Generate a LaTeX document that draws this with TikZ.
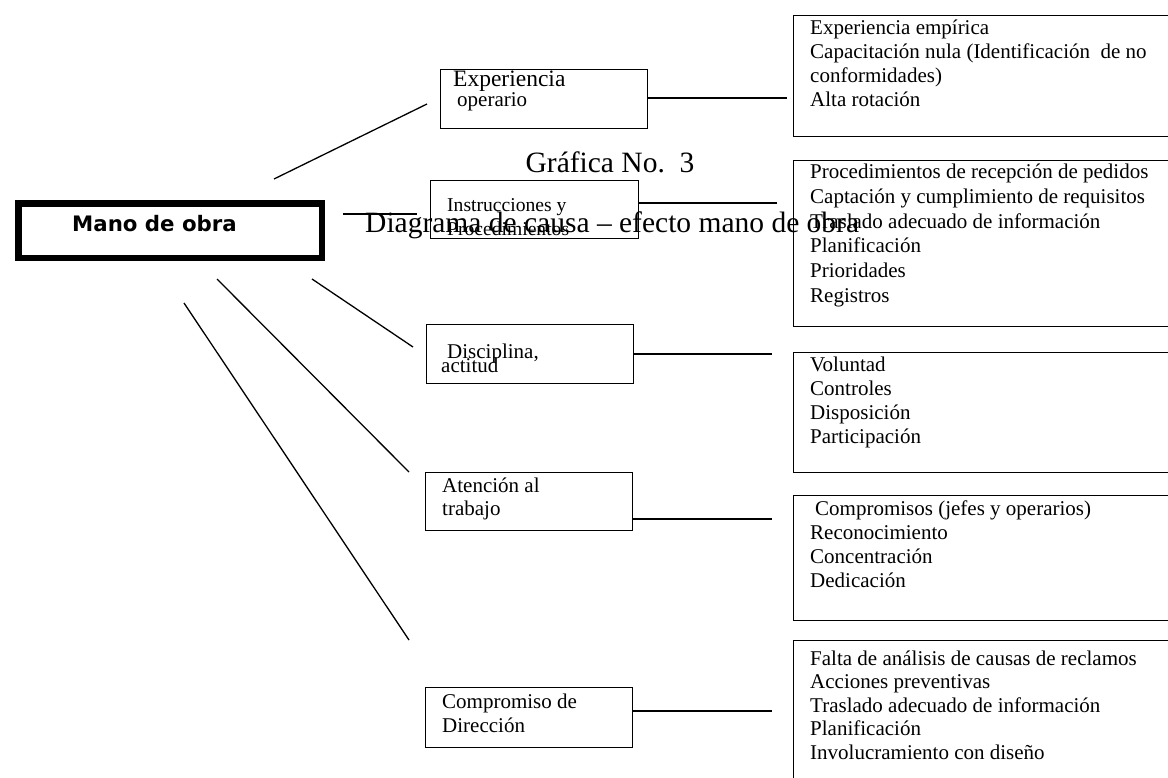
\documentclass[tikz,border=0pt]{standalone}
\usepackage{fontspec}
\setmainfont{Liberation Serif}
\newfontfamily\headsans{DejaVu Sans}
\begin{document}
\begin{tikzpicture}[x=1pt,y=-1pt,
  box/.style={draw, line width=1.3pt, inner sep=0pt, anchor=north west},
  txt/.style={anchor=base west, inner sep=0pt, font=\fontsize{21}{24}\selectfont},
  link/.style={line width=1.3pt}]
\useasboundingbox (0,0) rectangle (1168,778);
\clip (0,0) rectangle (1168,778);

% effect box
\node[box, line width=6.5pt, minimum width=303.5pt, minimum height=54.5pt] (mano) at (15.25,200.25) {};
\node[anchor=base west, inner sep=0pt, font=\headsans\bfseries\fontsize{21.3}{24}\selectfont] (manoT) at (72,232) {Mano de obra};

% cause boxes
\node[box, minimum width=207pt, minimum height=59pt] (exp) at (440,69) {};
\node[box, minimum width=208pt, minimum height=58pt] (ins) at (430,180) {};
\node[box, minimum width=207pt, minimum height=59pt] (dis) at (426,324) {};
\node[box, minimum width=207pt, minimum height=58pt] (ate) at (425,472) {};
\node[box, minimum width=207pt, minimum height=60pt] (dir) at (425,687) {};

\node[txt, font=\fontsize{23.5}{24}\selectfont] (expT1) at (453,87) {Experiencia};
\node[txt] (expT2) at (457,107) {operario};
\node[txt, font=\fontsize{19.6}{24}\selectfont] (insT1) at (447,212) {Instrucciones y};
\node[txt, font=\fontsize{19.6}{24}\selectfont] (insT2) at (447,236) {Procedimientos};
\node[txt] (disT1) at (447,358) {Disciplina,};
\node[txt] (disT2) at (441,372) {actitud};
\node[txt] (ateT1) at (442,492) {Atención al};
\node[txt] (ateT2) at (442,515) {trabajo};
\node[txt] (dirT1) at (442,708) {Compromiso de};
\node[txt] (dirT2) at (442,732) {Dirección};

% detail boxes (running past the right edge)
\node[box, minimum width=420pt, minimum height=121pt] (r1) at (793,15) {};
\node[box, minimum width=420pt, minimum height=166pt] (r2) at (793,160) {};
\node[box, minimum width=420pt, minimum height=120pt] (r3) at (793,352) {};
\node[box, minimum width=420pt, minimum height=125pt] (r4) at (793,495) {};
\node[box, minimum width=420pt, minimum height=200pt] (r5) at (793,640) {};

\foreach \t [count=\i] in {Experiencia empírica, Capacitación nula (Identificación\ \ de no, conformidades), Alta rotación}
  \node[txt] (r1-\i) at (810,{35+24*(\i-1)}) {\t};
\foreach \t [count=\i] in {Procedimientos de recepción de pedidos, Captación y cumplimiento de requisitos, Traslado adecuado de información, Planificación, Prioridades, Registros}
  \node[txt] (r2-\i) at (810,{179+24.6*(\i-1)}) {\t};
\foreach \t [count=\i] in {Voluntad, Controles, Disposición, Participación}
  \node[txt] (r3-\i) at (810,{371+24.2*(\i-1)}) {\t};
\foreach \t [count=\i] in {Reconocimiento, Concentración, Dedicación}
  \node[txt] (r4-\i) at (810,{539+24.3*(\i-1)}) {\t};
\node[txt] (r4-0) at (815,515) {Compromisos (jefes y operarios)};
\foreach \t [count=\i] in {Falta de análisis de causas de reclamos, Acciones preventivas, Traslado adecuado de información, Planificación, Involucramiento con diseño}
  \node[txt] (r5-\i) at (810,{665+23.5*(\i-1)}) {\t};

% title texts
\node[anchor=base, inner sep=0pt, font=\fontsize{29.5}{30}\selectfont] (title) at (610,173) {Gráfica No.\ \ 3};
\node[anchor=base west, inner sep=0pt, font=\fontsize{29.5}{30}\selectfont] (subtitle) at (365,233) {Diagrama de causa – efecto mano de obra};

% connectors from the effect box to the causes
\coordinate (a1) at (274,179); \coordinate (b1) at (427,104);
\coordinate (a2) at (343,214); \coordinate (b2) at (417,214);
\coordinate (a3) at (312,279); \coordinate (b3) at (413,347);
\coordinate (a4) at (217,279); \coordinate (b4) at (409,472);
\coordinate (a5) at (184,303); \coordinate (b5) at (409,640);
\foreach \k in {1,...,5} \draw[link] (a\k) -- (b\k);

% connectors from the causes to the detail boxes
\coordinate (e1) at (787,98);
\coordinate (e2) at (777,203);
\coordinate (e3) at (772,354);
\coordinate (e4) at (772,519);
\coordinate (e5) at (772,711);
\draw[link] (exp.east |- e1) -- (e1);
\draw[link] (ins.east |- e2) -- (e2);
\draw[link] (dis.east |- e3) -- (e3);
\draw[link] (ate.east |- e4) -- (e4);
\draw[link] (dir.east |- e5) -- (e5);
\end{tikzpicture}
\end{document}
